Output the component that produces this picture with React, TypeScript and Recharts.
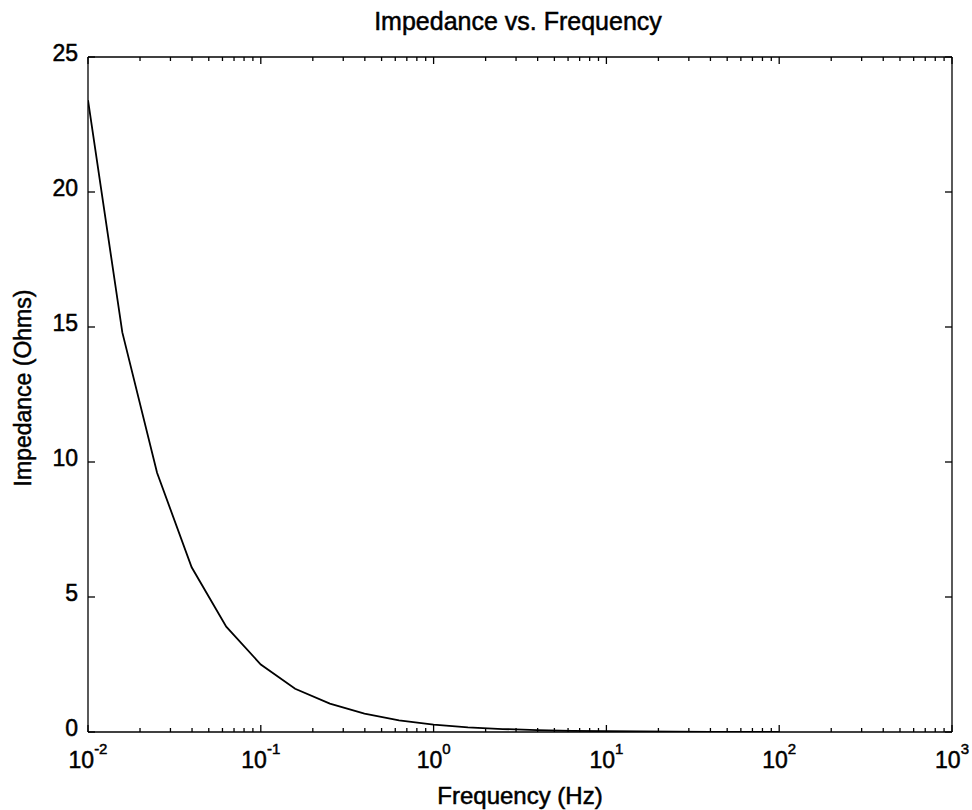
import React from 'react';
import { LineChart, Line, XAxis, YAxis } from 'recharts';

// frequency (Hz) and impedance (Ohms)
const frequency = [
  0.01, 0.0158, 0.0251, 0.0398, 0.0631, 0.1, 0.158, 0.251, 0.398, 0.631,
  1, 1.58, 2.51, 3.98, 6.31, 10, 15.8, 25.1, 39.8, 63.1, 100,
];
const impedance = [
  23.4, 14.8, 9.6, 6.1, 3.9, 2.5, 1.6, 1.05, 0.68, 0.43,
  0.27, 0.17, 0.11, 0.07, 0.045, 0.028, 0.018, 0.011, 0.007, 0.0045, 0.003,
];

const decadeExponents = [-2, -1, 0, 1, 2, 3];
const minorMultipliers = [2, 3, 4, 5, 6, 7, 8, 9];
const yTicks = [0, 5, 10, 15, 20, 25];

const majorTicks = decadeExponents.map(e => Math.pow(10, e));
const minorTicks = decadeExponents.slice(0, -1).flatMap(e =>
  minorMultipliers.map(m => m * Math.pow(10, e)));

const data = frequency.map((f, i) => ({ f, z: impedance[i] }));

const FONT = '"Liberation Sans", Arial, sans-serif';
const W = 972;
const H = 810;
const M = { top: 57, right: 20, bottom: 78, left: 88 };

// scanned original has slightly heavy glyphs
const txt = { fontFamily: FONT, fill: '#000', stroke: '#000', strokeWidth: 0.5 };

function XTick({ x, payload }: any) {
  const exp = Math.round(Math.log10(payload.value));
  return (
    <text x={x} y={768} textAnchor="middle" fontSize={23} {...txt}>
      10<tspan dy={-14} fontSize={15}>{exp}</tspan>
    </text>
  );
}

function YTick({ y, payload }: any) {
  return (
    <text x={78} y={y + 4} textAnchor="end" fontSize={23} {...txt}>
      {payload.value}
    </text>
  );
}

const none = () => <g />;

export default function App() {
  // mirrored axes sit on the plot edges so the ticks point inward
  const xCommon = {
    type: 'number' as const, scale: 'log' as const, dataKey: 'f',
    domain: [0.01, 1000], allowDataOverflow: true, mirror: true, height: 0.01,
    interval: 0 as const, stroke: '#000', strokeWidth: 1.3,
  };
  const yCommon = {
    type: 'number' as const, domain: [0, 25], ticks: yTicks, allowDataOverflow: true,
    mirror: true, width: 0.01, interval: 0 as const, stroke: '#000', strokeWidth: 1.3,
  };
  return (
    <div style={{ position: 'absolute', left: 0, top: 0, background: '#fff' }}>
      <LineChart width={W} height={H} data={data} margin={M}>
        <text x={518} y={30} textAnchor="middle" fontSize={25} {...txt}>
          Impedance vs. Frequency
        </text>
        <text x={520} y={804} textAnchor="middle" fontSize={24} {...txt}>
          Frequency (Hz)
        </text>
        <text transform="translate(31,388) rotate(-90)" textAnchor="middle" fontSize={23} {...txt}>
          Impedance (Ohms)
        </text>

        <XAxis {...xCommon} xAxisId="x" orientation="bottom" ticks={majorTicks} tickSize={7} tick={<XTick />} />
        <XAxis {...xCommon} xAxisId="xm" orientation="bottom" ticks={minorTicks} tickSize={4} tick={none} axisLine={false} />
        <XAxis {...xCommon} xAxisId="xt" orientation="top" ticks={majorTicks} tickSize={7} tick={none} />
        <XAxis {...xCommon} xAxisId="xtm" orientation="top" ticks={minorTicks} tickSize={4} tick={none} axisLine={false} />

        <YAxis {...yCommon} yAxisId="y" orientation="left" tickSize={7} tick={<YTick />} />
        <YAxis {...yCommon} yAxisId="yr" orientation="right" tickSize={7} tick={none} />

        <Line xAxisId="x" yAxisId="y" type="linear" dataKey="z" stroke="#000" strokeWidth={1.8}
          dot={false} isAnimationActive={false} />
      </LineChart>
    </div>
  );
}
